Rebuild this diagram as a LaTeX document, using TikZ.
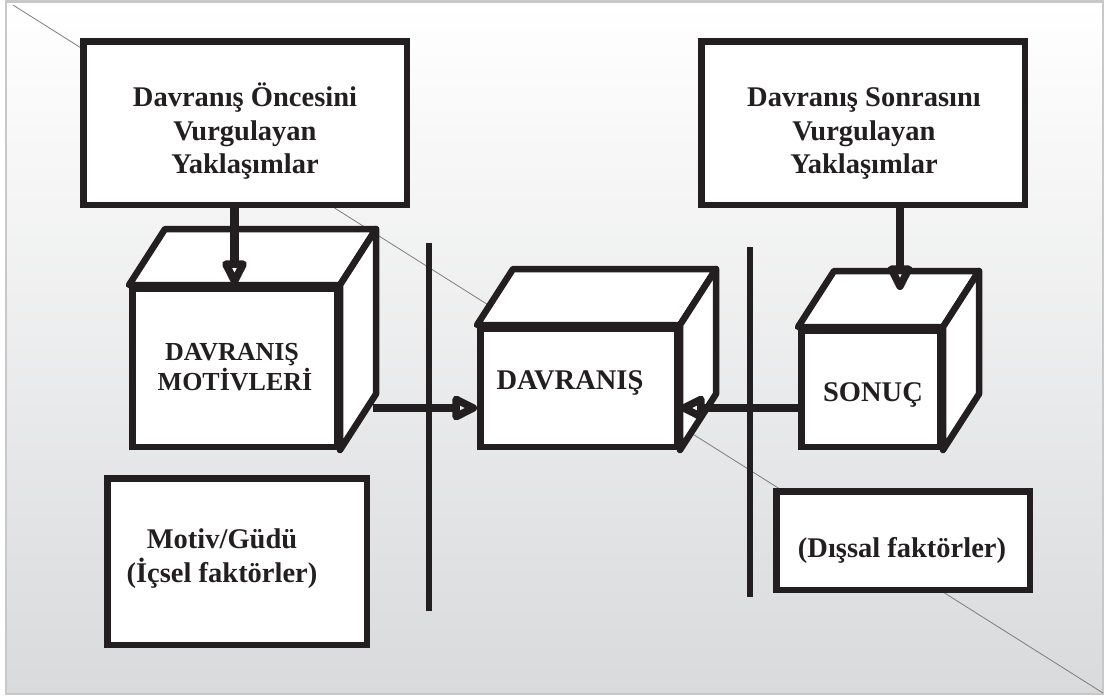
\documentclass[tikz,border=0pt]{standalone}
\usepackage{fontspec}
\setmainfont{Liberation Serif}
\usetikzlibrary{arrows.meta}
\definecolor{ink}{RGB}{35,31,32}
\definecolor{frameline}{RGB}{200,200,200}
\definecolor{shadebot}{RGB}{217,218,220}
\definecolor{diag}{RGB}{125,125,125}

\begin{document}
\begin{tikzpicture}[x=1pt,y=-1pt,
  box/.style={draw=ink, fill=white, line width=6.5pt, inner sep=0pt},
  face/.style={draw=ink, fill=white, line width=6.5pt, line join=round},
  txt/.style={font=\bfseries\fontsize{28.5}{34}\selectfont, text=ink, inner sep=0pt, anchor=base},
  cubetxt/.style={txt, font=\bfseries\fontsize{26}{30}\selectfont},
  sep/.style={draw=ink, line width=5.5pt},
  arr/.style={draw=ink, line width=8.5pt,
    -{Triangle[open, length=30pt, width=27pt, line width=7.5pt, round]}},
]
\useasboundingbox (0,0) rectangle (1105,697);
\fill[white] (0,0) rectangle (1105,697);

% framed, softly shaded panel
\shade[top color=white, bottom color=shadebot] (6,1.5) rectangle (1103,694);
\draw[frameline, line width=2.5pt] (6,1.5) rectangle (1103,694);

% thin diagonal across the panel
\coordinate (d1) at (13,5);
\coordinate (d2) at (1103,693);
\draw[diag, line width=0.8pt] (d1) -- (d2);

% top boxes
\node[box, minimum width=323.5pt, minimum height=163.5pt] (pre) at (245,123) {};
\node[box, minimum width=323.5pt, minimum height=163.5pt] (post) at (863,123) {};

% lower boxes
\node[box, minimum width=259.5pt, minimum height=166.5pt] (mg) at (237,561.5) {};
\node[box, minimum width=253.5pt, minimum height=98.5pt] (dis) at (903,540.5) {};

% cube front faces
\node[box, minimum width=204.5pt, minimum height=158.5pt] (mot) at (234.5,367.5) {};
\node[box, minimum width=196.5pt, minimum height=118.5pt] (dav) at (578.5,387.5) {};
\node[box, minimum width=138.5pt, minimum height=116.5pt] (son) at (870.5,388.5) {};

% cube top and side faces
\foreach \c in {mot,dav,son}{
  \draw[face] (\c.north west) -- ([shift={(36,-56)}]\c.north west)
    -- ([shift={(36,-56)}]\c.north east) -- (\c.north east) -- cycle;
  \draw[face] (\c.north east) -- ([shift={(36,-56)}]\c.north east)
    -- ([shift={(36,-56)}]\c.south east) -- (\c.south east) -- cycle;
}

% texts
\node[txt] (preA) at (245,106) {Davranış Öncesini};
\node[txt] (preB) at (245,140) {Vurgulayan};
\node[txt] (preC) at (245,173) {Yaklaşımlar};
\node[txt] (postA) at (864,106) {Davranış Sonrasını};
\node[txt] (postB) at (864,140) {Vurgulayan};
\node[txt] (postC) at (864,173) {Yaklaşımlar};
\node[cubetxt] (motA) at (232,360) {DAVRANIŞ};
\node[cubetxt] (motB) at (235,390) {MOTİVLERİ};
\node[txt] (davA) at (570,389) {DAVRANIŞ};
\node[txt] (sonA) at (873,401) {SONUÇ};
\node[txt] (mgA) at (222,548) {Motiv/Güdü};
\node[txt] (mgB) at (222,582) {(İçsel faktörler)};
\node[txt] (disA) at (902,557) {(Dışsal faktörler)};

% separators
\coordinate (s1t) at (429,243);
\coordinate (s1b) at (429,611);
\coordinate (s2t) at (750,247);
\coordinate (s2b) at (750,597);
\draw[sep] (s1t) -- (s1b);
\draw[sep] (s2t) -- (s2b);

% connectors
\coordinate (motR) at (373,408);
\coordinate (sonT) at (900,290);
\draw[arr] (pre.south -| mot.north) -- (mot.north);
\draw[arr] (post.south -| sonT) -- (sonT);
\draw[arr] (motR) -- (dav.west |- motR);
\draw[arr] (son.west |- motR) -- (dav.east |- motR);
\end{tikzpicture}
\end{document}
